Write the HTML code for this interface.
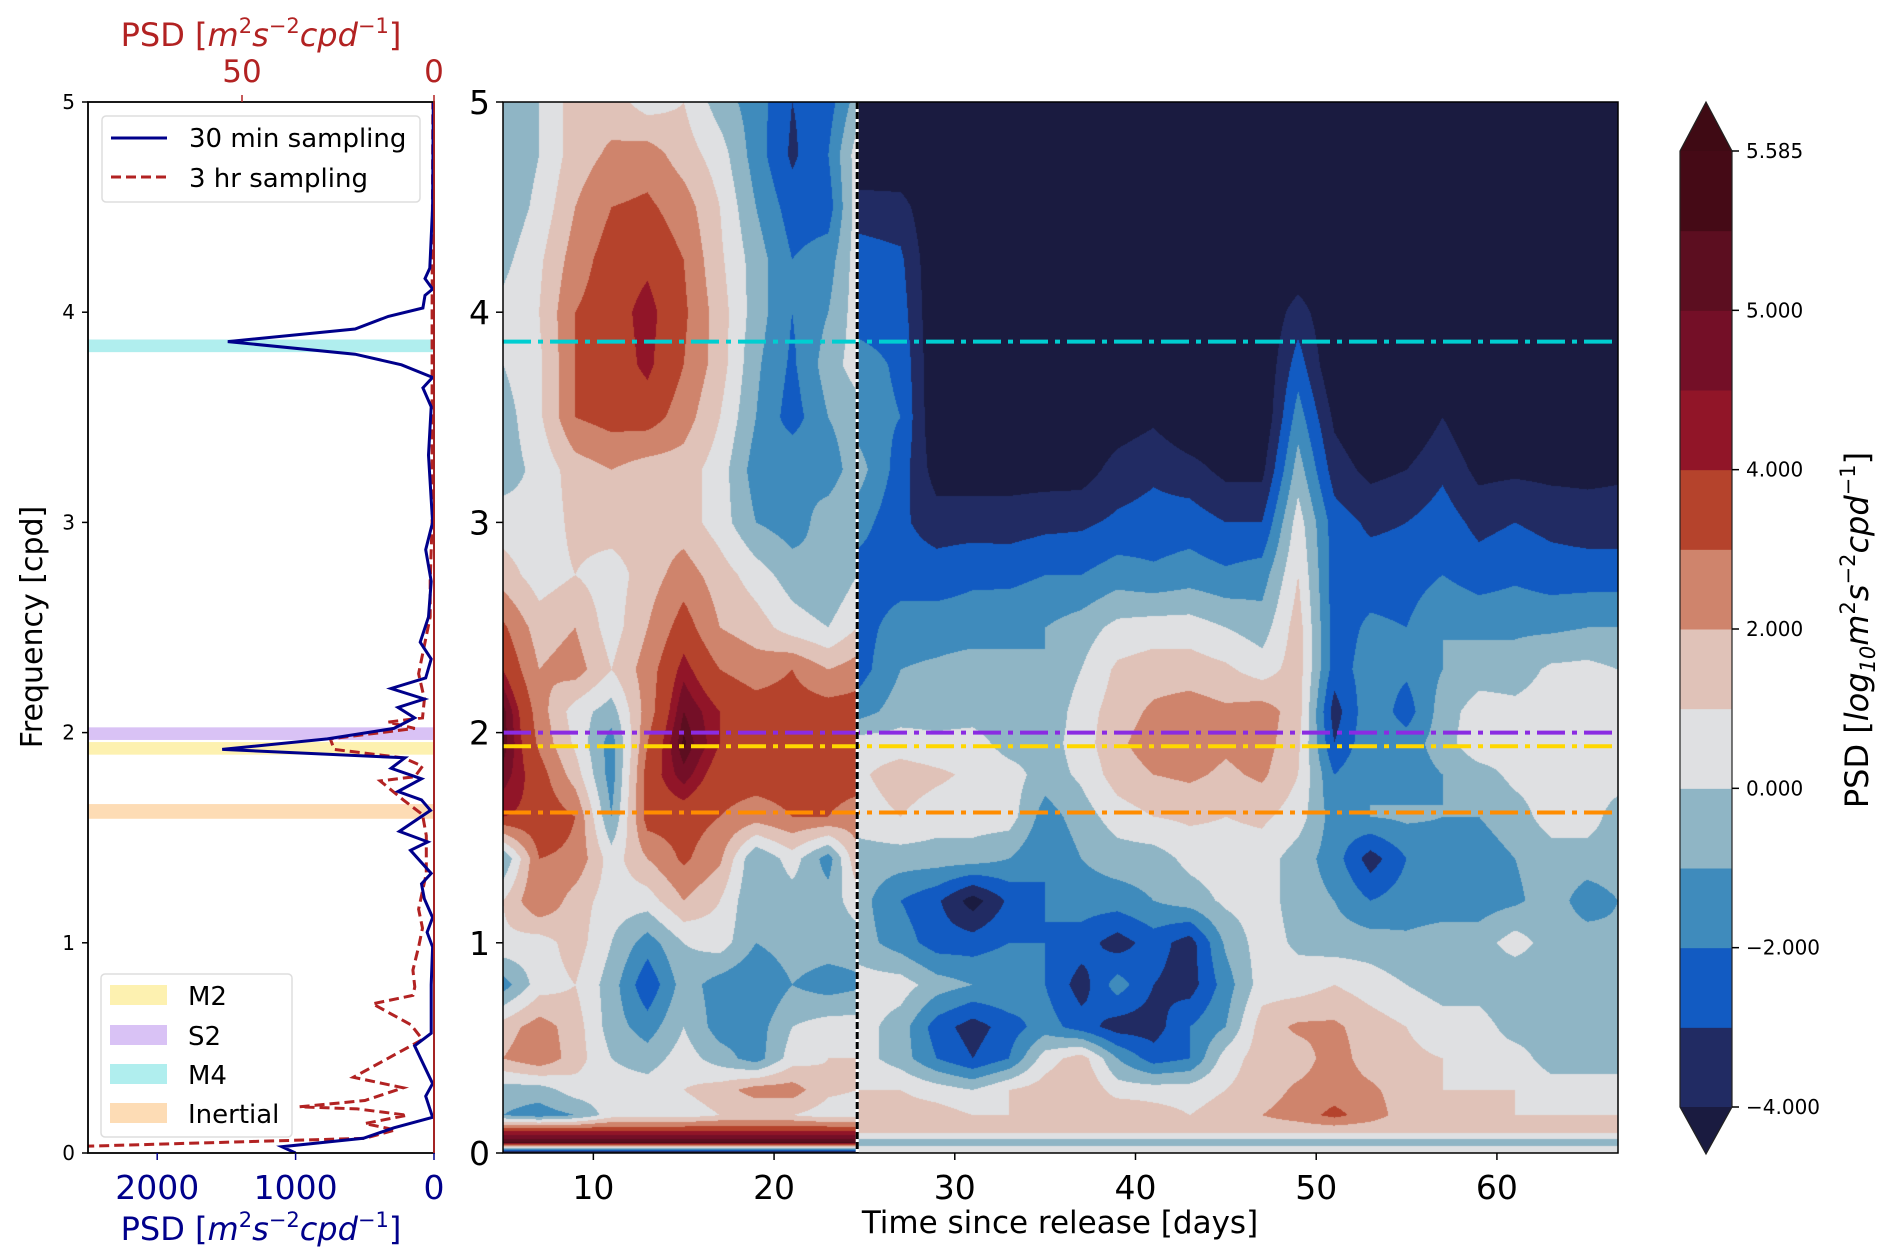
<!DOCTYPE html>
<html><head><meta charset="utf-8"><style>
html,body{margin:0;padding:0;background:#fff;}
#wrap{position:relative;width:1892px;height:1260px;overflow:hidden;font-family:"DejaVu Sans","Liberation Sans",sans-serif;}
#heat{position:absolute;left:0;top:0;}
#ov{position:absolute;left:0;top:0;}
</style></head><body>
<div id="wrap">
<canvas id="heat" width="1892" height="1260"></canvas>
<svg id="ov" width="1892" height="1260" xmlns="http://www.w3.org/2000/svg">
<defs>
<clipPath id="clipL"><rect x="88" y="102" width="346" height="1051"/></clipPath>
</defs>
<g id="left-panel"></g>
<g id="main-overlay"></g>
<g id="cbar"></g>
</svg>
</div>
<script>
// ---------- main spectrogram data ----------
const times = [5,7,9,11,13,15,17,19,21,23,24.6, 24.6,27,29,31,33,35,37,39,41,43,45,47,49,51,53,55,57,59,61,63,65,66.7];
const freqs = [5,4.75,4.5,4.25,4,3.75,3.5,3.25,3,2.75,2.5,2.3,2.1,1.95,1.8,1.6,1.4,1.2,1.0,0.8,0.6,0.45,0.3,0.18,0.1,0.05,0];
const r500 = [-0.8,0,1.5,1.5,0.5,1,-0.5,-1.5,-3,-2.5,-0.5, -5,-5,-5,-5,-5,-5,-5,-5,-5,-5,-5,-5,-5,-5,-5,-5,-5,-5,-5,-5,-5,-5];
const r475 = [-1,0,1.5,2.2,2.5,1.5,0.5,-1.5,-3.2,-2,0.5, -5,-5,-5,-5,-5,-5,-5,-5,-5,-5,-5,-5,-5,-5,-5,-5,-5,-5,-5,-5,-5,-5];
const r450 = [-0.8,0.3,2,3,3.2,2.5,1,-1,-2.5,-2.5,0.5, -3.5,-3.6,-5,-5,-5,-5,-5,-5,-5,-5,-5,-5,-5,-5,-5,-5,-5,-5,-5,-5,-5,-5];
const r425 = [-0.3,0.8,2.5,3.5,3.8,3,1.2,-0.5,-2,-1.5,0.5, -2.5,-2.8,-5,-5,-5,-5,-5,-5,-5,-5,-5,-5,-5,-5,-5,-5,-5,-5,-5,-5,-5,-5];
const r400 = [0.3,1,3,3.6,4.3,3.2,1.5,-0.5,-2,-1,0.5, -2.5,-2.5,-5,-5,-5,-5,-5,-5,-5,-5,-5,-5,-3.5,-5,-5,-5,-5,-5,-5,-5,-5,-5];
const r375 = [0,0.8,3,3.5,4.2,3,1.5,-0.8,-2.2,-0.5,0.5, -1.5,-2.2,-5,-5,-5,-5,-5,-5,-5,-5,-5,-5,-2.5,-5,-5,-5,-5,-5,-5,-5,-5,-5];
const r350 = [-0.5,0.8,3,3.4,3.5,2.5,1,-1,-2.5,-1,-0.5, -1.5,-2,-5,-5,-5,-5,-5,-4.6,-4.2,-5,-5,-5,-1.5,-4.2,-5,-5,-4,-5,-5,-5,-5,-5];
const r325 = [-0.5,0.3,1.5,2,1.5,1.5,0.5,-1.5,-1,-1.5,-0.5, -0.5,-2.5,-4.5,-4.5,-4.5,-4.5,-4.5,-3.6,-3.2,-3.6,-4.3,-4.3,-0.5,-3.5,-4.3,-4,-3.2,-4.3,-4.2,-4.3,-4.3,-4.2];
const r300 = [0.5,0.3,1.3,1.5,1.5,1.5,0.5,-1,-1.5,-0.5,0, -1.5,-2.8,-3.5,-3.5,-3.5,-3.3,-3.2,-2.8,-2.6,-2.5,-3,-3,0.5,-2.5,-3.2,-3,-2.5,-3.3,-3,-3.3,-3.5,-3.5];
const r275 = [1.5,0.5,1,0.5,1.5,2.5,1.5,0.5,-0.5,-1,0, -2.5,-2.5,-2.5,-2.2,-2.3,-2,-2,-1.5,-1.8,-1.5,-1.8,-1.5,1,-2.5,-2.5,-2.5,-2,-2.5,-2.2,-2.5,-2.5,-2.5];
const r250 = [3.2,1.5,2,0.5,2,3.5,2,1.5,0.5,0,1, -2.5,-1.5,-1.5,-1.5,-1.2,-1,-0.5,0.3,0.5,0.5,0,-0.5,1.5,-2.5,-1.8,-2,-1,-1.2,-1.2,-1.2,-1,-1];
const r230 = [4,2,2.5,1,2.5,4.3,3,2.5,3,2,2.5, -2.5,-1,-0.8,-0.5,-0.8,-1,0,1.2,1.5,1.5,1.2,0.5,1.5,-2.5,-1.5,-1.8,-1,-0.5,-0.5,0.2,0.3,0];
const r210 = [5.2,2.5,0.5,-0.5,2.5,5,4,3.5,3.5,3.5,3.5, -1.5,-0.5,-0.5,-0.5,-0.8,-0.8,0.5,1.5,2.2,2.5,2.2,2.5,1.5,-3.5,-1.2,-2.5,-0.5,0.5,0.3,0.5,0.5,0.3];
const r195 = [5.3,2.8,0.8,-1.5,3,5.4,4,3.5,4,3.5,3.5, 0.5,0.5,0.3,0.5,-0.5,-0.5,0.5,1.8,2.5,2.6,2.2,2.5,1.2,-3,-1.2,-1.5,-0.5,0.8,0.5,0.5,0.7,0.5];
const r180 = [4.8,3.5,1.5,-1.5,3.5,4.8,3.5,3.5,3.5,3.5,3.5, 0.8,1.5,1.2,0.8,0.5,-0.5,0.2,1.5,2,2.2,1.8,2.2,1,-2,-1,-1.5,-1,-0.5,0.3,0.5,0.5,0.5];
const r160 = [4,3.8,3,-1,3.5,3.5,3,2.5,3,3,2.5, 0.5,1,0.5,0.5,0.5,-1.5,-0.5,0.5,1,1.2,1,1.2,0.5,-1.5,-1,-0.8,-1,-1,-0.5,0.5,0.5,-0.5];
const r140 = [-1,3,2.8,0.5,2,3.2,2.2,-1,0.5,-1.5,1.8, -0.5,-0.5,-0.5,-0.5,-1,-2,-1,-0.5,-0.5,0.3,0.5,0.5,-0.5,-1.5,-3.5,-2,-1.5,-1.5,-1,-0.5,-0.5,-0.5];
const r120 = [1,3,1.5,0.5,0.5,2,1,-1,-0.5,-0.5,0.5, -0.5,-2,-2.8,-4.5,-2.8,-2,-1.5,-1.5,-1,-0.5,0.2,0.5,-0.5,-1,-2,-1.5,-1.5,-1.5,-1.2,-0.5,-1.5,-1];
const r100 = [0.8,0.5,1.5,0,-1.5,0,0.5,-1,-0.5,-0.5,-0.5, -0.5,-1.5,-2.5,-2.5,-2,-2,-2.5,-3.5,-2.5,-3.5,-0.8,0.5,-0.2,-0.5,-0.5,-0.8,-0.5,-0.5,0.5,-0.5,-0.5,-0.8];
const r080 = [-1.5,0.5,1,-0.5,-2.8,-0.5,-1.5,-2,-1,-1.5,-1.2, 0.5,0.5,-0.5,-1,-1,-2,-3.5,-1.5,-3,-3.5,-1.5,0.5,0.5,1,0.5,0,-0.5,-0.5,-1,-0.5,-0.8,-0.8];
const r060 = [1.5,2.5,1.5,-0.5,-1.5,0,-1.5,-1.5,0,0.5,0.5, 0.5,-0.5,-2.5,-3.5,-2.5,-1.5,-2.5,-3.5,-3.5,-2,-1,1.5,2.2,2.2,1.5,1,0.5,0.5,-0.5,-0.5,-0.5,-0.5];
const r045 = [2,2.8,1.5,0,-0.5,0.5,-0.5,-1.5,0.5,1,1, 0.5,-0.5,-2,-3,-2,0.5,1.5,-1,-2.5,-2,0.5,1.5,1.5,2.5,1.5,1.2,1,0.5,0.5,-0.5,-0.5,-0.5];
const r030 = [-0.5,-0.5,0.5,0.5,0.5,1,1.5,2.5,2.5,1.2,1, 1,1,0.5,0,1,1.5,2,0.5,0.5,0.5,1,1.5,2.2,2.5,2.2,1.5,1,1,1,0.5,0.5,0.5];
const r018 = [-1,-1.5,-1,0.5,0.5,0.5,1,1,1,0.5,0.5, 1,1.5,1.5,1,1,1.5,1.5,2,1.5,1,1.5,2,2.5,3.3,2.5,1.5,1.5,1.5,1,1,1,1];
const r010 = [4.2,4.2,4.2,4.2,4.2,4.2,4.2,4.2,4.2,4.2,4.2, 1.2,1.2,1.2,1.2,1.2,1.2,1.2,1.2,1.2,1.2,1.2,1.2,1.2,1.2,1.2,1.2,1.2,1.2,1.2,1.2,1.2,1.2];
const r005 = [5.4,5.4,5.4,5.4,5.4,5.4,5.4,5.4,5.4,5.4,5.4, -0.5,-0.5,-0.5,-0.5,-0.5,-0.5,-0.5,-0.5,-0.5,-0.5,-0.5,-0.5,-0.5,-0.5,-0.5,-0.5,-0.5,-0.5,-0.5,-0.5,-0.5,-0.5];
const r000 = [-4.5,-4.5,-4.5,-4.5,-4.5,-4.5,-4.5,-4.5,-4.5,-4.5,-4.5, 1,1,1,1,1,1,1,1,1,1,1,1,1,1,1,1,1,1,1,1,1,1];
const grid = [r500,r475,r450,r425,r400,r375,r350,r325,r300,r275,r250,r230,r210,r195,r180,r160,r140,r120,r100,r080,r060,r045,r030,r018,r010,r005,r000];
const levels = [-4,-3,-2,-1,0,1,2,3,4,4.5,5,5.29,5.585];
const levelColors = ['#212b63','#125bc2','#3f8bbc','#8fb5c5','#dfe0e2','#e0c2b8','#cf846c','#b5432c','#911528','#740f27','#5c0e20','#450a16'];
const cbarTicks = ['5.585','5.000','4.000','2.000','0.000','\u22122.000','\u22124.000'];
const cbarTickIdx = [12,10,8,6,4,2,0];
const xTicks = [10,20,30,40,50,60];
const yTicks = [0,1,2,3,4,5];
const tideNames = ['M4','S2','M2','Inertial'];
const tideFreq = [3.86,2.00,1.935,1.62];
const tideLineColors = ['#00ced1','#8a2be2','#ffd700','#ff8c00'];
const bandLo = [3.81,1.965,1.895,1.59];
const bandHi = [3.87,2.025,1.955,1.66];
const bandColors = ['#b0eeee','#d9c2f5','#fdf1b0','#fddcb5'];
const releaseSwitchDay = 24.6;
// left panel spectra
const blueFreq = [0,0.03,0.07,0.12,0.17,0.27,0.33,0.51,0.57,0.8,0.98,1.05,1.12,1.21,1.28,1.33,1.44,1.48,1.53,1.63,1.68,1.72,1.78,1.83,1.88,1.92,1.97,2.02,2.07,2.12,2.16,2.21,2.26,2.35,2.43,2.55,2.72,2.87,3.0,3.32,3.55,3.64,3.69,3.75,3.80,3.86,3.92,3.98,4.02,4.08,4.11,4.16,4.21,4.5,5];
const blueVal = [1000,1100,510,290,10,60,10,140,20,20,10,50,10,70,90,20,170,45,250,25,90,260,90,310,210,1530,770,290,140,260,70,310,60,20,100,40,20,60,10,40,20,80,10,235,570,1490,570,330,80,65,10,65,30,10,5];
const redFreq = [0.03,0.07,0.11,0.14,0.18,0.21,0.22,0.25,0.31,0.36,0.45,0.54,0.61,0.71,0.75,0.79,0.87,0.98,1.07,1.16,1.33,1.51,1.61,1.68,1.77,1.79,1.84,1.88,1.92,1.97,2.02,2.05,2.07,2.16,2.28,2.55,2.72,3,4,5];
const redVal = [95,18,10,18,7,20,35,18,8,21,12,3,6,16,5.5,5,5.5,4,3,4,2,2,3,8,14,5,3,8,26,27,5,12,3,2.5,4,1,1,0.5,0.5,0.3];
const bottomTicks = [2000,1000,0];
const topTicks = [50,0];

// ---------- axis functions ----------
const MX0=503, MX1=1618, MY0=102, MY1=1153;
const D0=5, D1=66.7, F0=0, F1=5;
const xDay = d => MX0 + (d-D0)/(D1-D0)*(MX1-MX0);
const yF = f => MY1 - (f-F0)/(F1-F0)*(MY1-MY0);
const LX0=88, LX1=434;
const xBlue = v => LX1 - v/2500*(LX1-LX0);
const xRed = v => LX1 - v/50*(LX1-242);

function hexRgb(h){return [parseInt(h.substr(1,2),16),parseInt(h.substr(3,2),16),parseInt(h.substr(5,2),16)];}
const lc = levelColors.map(hexRgb);
const under = hexRgb('#1a1b40'), over = hexRgb('#3f0a14');
function colorFor(v){
  if(v<levels[0]) return under;
  for(let i=0;i<levels.length-1;i++){ if(v<levels[i+1]) return lc[i]; }
  return over;
}

// ---------- heatmap ----------
(function(){
  const cv=document.getElementById('heat'); const ctx=cv.getContext('2d');
  const w=MX1-MX0, h=MY1-MY0;
  const img=ctx.createImageData(w,h);
  const colIdx=[], colT=[];
  for(let px=0;px<w;px++){
    const d=D0+(px+0.5)/w*(D1-D0);
    let seg=times.length-2;
    for(let i=0;i<times.length-1;i++){ if(times[i+1]>times[i] && d>=times[i] && d<=times[i+1]){seg=i;break;} }
    colIdx.push(seg); colT.push(Math.max(0,Math.min(1,(d-times[seg])/(times[seg+1]-times[seg]))));
  }
  for(let py=0;py<h;py++){
    const f=F1-(py+0.5)/h*(F1-F0);
    let r=freqs.length-2;
    for(let j=0;j<freqs.length-1;j++){ if(f<=freqs[j] && f>=freqs[j+1]){r=j;break;} }
    const u=(freqs[r]-f)/(freqs[r]-freqs[r+1]);
    const A=grid[r], B=grid[r+1];
    for(let px=0;px<w;px++){
      const i=colIdx[px], t=colT[px];
      const v=(A[i]*(1-t)+A[i+1]*t)*(1-u)+(B[i]*(1-t)+B[i+1]*t)*u;
      const c=colorFor(v); const k=(py*w+px)*4;
      img.data[k]=c[0];img.data[k+1]=c[1];img.data[k+2]=c[2];img.data[k+3]=255;
    }
  }
  ctx.putImageData(img,MX0,MY0);
})();

const NS='http://www.w3.org/2000/svg';
function mk(tag,attrs,parent){const e=document.createElementNS(NS,tag);for(const k in attrs)e.setAttribute(k,attrs[k]);parent.appendChild(e);return e;}

// ---------- main overlay ----------
(function(){
  const g=document.getElementById('main-overlay');
  for(let i=0;i<tideFreq.length;i++){
    const l=mk('line',{x1:MX0,x2:MX1,y1:yF(tideFreq[i]),y2:yF(tideFreq[i]),stroke:tideLineColors[i],'stroke-width':4,'stroke-dasharray':'28 7 5 7'},g);
    
    
  }
  const vw=mk('line',{x1:xDay(releaseSwitchDay),x2:xDay(releaseSwitchDay),y1:MY0,y2:MY1,stroke:'#fff','stroke-width':3},g);
  
  
  const vl=mk('line',{x1:xDay(releaseSwitchDay),x2:xDay(releaseSwitchDay),y1:MY0,y2:MY1,stroke:'#000','stroke-width':3,'stroke-dasharray':'7 3'},g);
  
  
  const fr=mk('rect',{x:MX0,y:MY0,width:MX1-MX0,height:MY1-MY0,fill:'none',stroke:'#000','stroke-width':1.5},g);
  
  
  xTicks.forEach(t=>{
    const x=xDay(t);
    const tk=mk('line',{x1:x,x2:x,y1:MY1,y2:MY1+7,stroke:'#000','stroke-width':1.5},g);
    
    
    const tl=mk('text',{x:x,y:MY1+46,'text-anchor':'middle','font-size':33,fill:'#000'},g); tl.textContent=t;
    
    
  });
  yTicks.forEach(t=>{
    const y=yF(t);
    const tk=mk('line',{x1:MX0-7,x2:MX0,y1:y,y2:y,stroke:'#000','stroke-width':1.5},g);
    
    
    const tl=mk('text',{x:MX0-13,y:y+12,'text-anchor':'end','font-size':33,fill:'#000'},g); tl.textContent=t;
    
    
  });
  const xt=mk('text',{x:1060,y:1233,'text-anchor':'middle','font-size':31,fill:'#000'},g); xt.textContent='Time since release [days]';
  
  
})();

// ---------- left panel ----------
(function(){
  const g=document.getElementById('left-panel');
  for(let i=0;i<bandLo.length;i++){
    const b=mk('rect',{x:LX0,y:yF(bandHi[i]),width:LX1-LX0,height:yF(bandLo[i])-yF(bandHi[i]),fill:bandColors[i]},g);
    
    
  }
  const cg=mk('g',{'clip-path':'url(#clipL)'},g);
  let d='';
  redFreq.forEach((f,i)=>{d+=(i?'L':'M')+xRed(redVal[i]).toFixed(1)+','+yF(f).toFixed(1);});
  const rp=mk('path',{d:d,fill:'none',stroke:'#b22222','stroke-width':3,'stroke-dasharray':'10 5'},cg);
  
  
  d='';
  blueFreq.forEach((f,i)=>{d+=(i?'L':'M')+xBlue(blueVal[i]).toFixed(1)+','+yF(f).toFixed(1);});
  const bp=mk('path',{d:d,fill:'none',stroke:'#00008b','stroke-width':3},cg);
  
  
  const fr=mk('rect',{x:LX0,y:MY0,width:LX1-LX0,height:MY1-MY0,fill:'none',stroke:'#000','stroke-width':1.8},g);
  
  
  const rl=mk('line',{x1:LX1,x2:LX1,y1:MY0,y2:MY1,stroke:'#b22222','stroke-width':1.8},g);
  
  
  yTicks.forEach(t=>{
    const y=yF(t);
    const tk=mk('line',{x1:LX0-6,x2:LX0,y1:y,y2:y,stroke:'#000','stroke-width':1.5},g);
    
    
    const tl=mk('text',{x:LX0-13,y:y+7,'text-anchor':'end','font-size':20,fill:'#000'},g); tl.textContent=t;
    
    
  });
  bottomTicks.forEach(t=>{
    const x=xBlue(t);
    const tk=mk('line',{x1:x,x2:x,y1:MY1,y2:MY1+7,stroke:'#00008b','stroke-width':1.5},g);
    
    
    const tl=mk('text',{x:x,y:MY1+46,'text-anchor':'middle','font-size':33,fill:'#00008b'},g); tl.textContent=t;
    
    
  });
  topTicks.forEach(t=>{
    const x=xRed(t);
    const tk=mk('line',{x1:x,x2:x,y1:MY0-7,y2:MY0,stroke:'#b22222','stroke-width':1.5},g);
    
    
    const tl=mk('text',{x:x,y:MY0-20,'text-anchor':'middle','font-size':31,fill:'#b22222'},g); tl.textContent=t;
    
    
  });
})();

// ---------- colorbar ----------
(function(){
  const g=document.getElementById('cbar');
  const CX0=1680, CX1=1732, CY0=151, CY1=1107;
  const n=levelColors.length, bh=(CY1-CY0)/n;
  const yc = idx => CY1 - idx*bh;
  for(let i=0;i<n;i++){
    const r=mk('rect',{x:CX0,y:yc(i+1),width:CX1-CX0,height:bh+0.5,fill:levelColors[i]},g);
    
    
  }
  const tu=mk('polygon',{points:`${CX0},${CY0} ${CX1},${CY0} ${(CX0+CX1)/2},102`,fill:'#3f0a14'},g);
  
  
  const td=mk('polygon',{points:`${CX0},${CY1} ${CX1},${CY1} ${(CX0+CX1)/2},1154`,fill:'#1a1b40'},g);
  
  
  const ol=mk('polygon',{points:`${CX0},${CY0} ${(CX0+CX1)/2},102 ${CX1},${CY0} ${CX1},${CY1} ${(CX0+CX1)/2},1154 ${CX0},${CY1}`,fill:'none',stroke:'#222','stroke-width':1.2},g);
  
  
  cbarTicks.forEach((t,i)=>{
    const y=yc(cbarTickIdx[i]);
    const tk=mk('line',{x1:CX1,x2:CX1+7,y1:y,y2:y,stroke:'#000','stroke-width':1.5},g);
    
    
    const tl=mk('text',{x:CX1+14,y:y+7,'font-size':20,fill:'#000'},g); tl.textContent=t;
    
    
  });
})();
</script>
<div style="position:absolute;left:0;top:0;width:1892px;height:1260px;pointer-events:none;">
<svg width="1892" height="1260" xmlns="http://www.w3.org/2000/svg" style="position:absolute;left:0;top:0;font-family:'DejaVu Sans','Liberation Sans',sans-serif;">
  <text x="0" y="0" transform="translate(42,627) rotate(-90)" text-anchor="middle" font-size="30" fill="#000">Frequency [cpd]</text>
  <text x="261" y="46" text-anchor="middle" font-size="32" fill="#b22222">PSD [<tspan font-style="italic">m</tspan><tspan font-size="21" dy="-13">2</tspan><tspan font-style="italic" dy="13">s</tspan><tspan font-size="21" dy="-13">−2</tspan><tspan font-style="italic" dy="13">cpd</tspan><tspan font-size="21" dy="-13">−1</tspan><tspan dy="13">]</tspan></text>
  <text x="261" y="1240" text-anchor="middle" font-size="32" fill="#00008b">PSD [<tspan font-style="italic">m</tspan><tspan font-size="21" dy="-13">2</tspan><tspan font-style="italic" dy="13">s</tspan><tspan font-size="21" dy="-13">−2</tspan><tspan font-style="italic" dy="13">cpd</tspan><tspan font-size="21" dy="-13">−1</tspan><tspan dy="13">]</tspan></text>
  <text x="0" y="0" transform="translate(1868,630) rotate(-90)" text-anchor="middle" font-size="32" fill="#000">PSD [<tspan font-style="italic">log</tspan><tspan font-style="italic" font-size="21" dy="7">10</tspan><tspan font-style="italic" dy="-7">m</tspan><tspan font-size="21" dy="-13">2</tspan><tspan font-style="italic" dy="13">s</tspan><tspan font-size="21" dy="-13">−2</tspan><tspan font-style="italic" dy="13">cpd</tspan><tspan font-size="21" dy="-13">−1</tspan><tspan dy="13">]</tspan></text>
  <g>
    <rect x="102" y="116" width="318" height="86" rx="4" fill="#fff" fill-opacity="0.9" stroke="#ddd" stroke-width="1.5"/>
    <line x1="111" x2="167" y1="138" y2="138" stroke="#00008b" stroke-width="3"/>
    <text x="189" y="147" font-size="26" fill="#000">30 min sampling</text>
    <line x1="111" x2="167" y1="177" y2="177" stroke="#b22222" stroke-width="3" stroke-dasharray="10 5"/>
    <text x="189" y="187" font-size="26" fill="#000">3 hr sampling</text>
  </g>
  <g>
    <rect x="101" y="974" width="191" height="163" rx="4" fill="#fff" fill-opacity="0.9" stroke="#ddd" stroke-width="1.5"/>
    <rect x="110" y="985" width="57" height="20" fill="#fdf1b0"/>
    <text x="188" y="1005" font-size="26" fill="#000">M2</text>
    <rect x="110" y="1025" width="57" height="20" fill="#d9c2f5"/>
    <text x="188" y="1045" font-size="26" fill="#000">S2</text>
    <rect x="110" y="1064" width="57" height="20" fill="#b0eeee"/>
    <text x="188" y="1084" font-size="26" fill="#000">M4</text>
    <rect x="110" y="1103" width="57" height="20" fill="#fddcb5"/>
    <text x="188" y="1123" font-size="26" fill="#000">Inertial</text>
  </g>
</svg>
</div>
</body></html>
